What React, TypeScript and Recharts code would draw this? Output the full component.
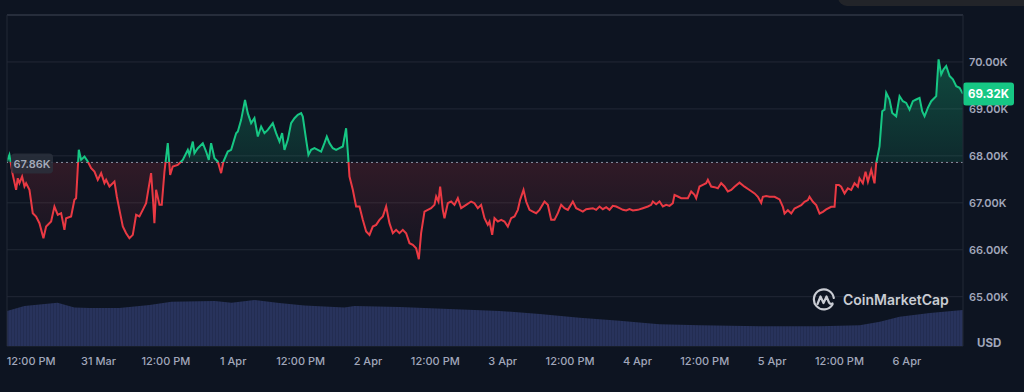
import React from 'react';
import { ComposedChart, Area, XAxis, YAxis, CartesianGrid, ReferenceLine } from 'recharts';

// hours since 30 Mar 00:00
const priceHours = [
  7.7, 8.13, 8.73, 9.32, 9.62, 9.92, 10.39, 10.81, 11.1, 11.7, 12.29, 12.88, 13.48, 14.19, 14.67, 15.56, 16.15, 16.75, 17.34, 17.93,
  18.23, 19.12, 19.71, 20.01, 20.49, 20.9, 21.5, 22.09, 22.69, 23.28, 23.87, 24.47, 25.06, 25.36, 25.95, 26.84, 27.26, 27.73, 28.33, 28.92,
  29.51, 30.11, 30.7, 31.29, 31.89, 32.48, 33.37, 33.67, 33.96, 34.26, 34.86, 35.27, 35.75, 36.34, 36.76, 37.23, 38.12, 38.72, 39.01, 39.61,
  39.91, 40.2, 40.8, 41.09, 41.69, 42.58, 43.17, 43.65, 44.06, 44.66, 45.25, 45.84, 46.26, 47.03, 47.63, 48.52, 48.82, 49.41, 50.1, 50.59,
  51.19, 51.78, 52.38, 52.97, 53.56, 54.16, 55.05, 55.64, 56.24, 56.71, 57.13, 57.72, 58.31, 58.91, 59.5, 60.1, 60.39, 60.99, 61.4, 61.88,
  62.47, 63.07, 63.66, 64.25, 64.67, 65.14, 65.74, 66.33, 66.93, 67.52, 68.11, 68.47, 68.71, 69.3, 69.89, 70.49, 71.08, 71.68, 72.27, 72.86,
  73.46, 74.05, 74.65, 75.24, 75.83, 76.43, 77.02, 77.61, 78.21, 78.8, 79.4, 79.99, 80.58, 81.06, 81.47, 82.07, 82.66, 83.25, 83.85, 84.15,
  84.56, 84.86, 85.33, 85.63, 86.22, 86.82, 87.41, 88.01, 88.6, 89.49, 90.38, 90.97, 91.57, 92.16, 92.76, 93.35, 93.65, 94.13, 94.54, 95.14,
  95.73, 96.32, 96.92, 97.51, 98.11, 98.7, 99.11, 99.71, 100.18, 100.78, 101.37, 101.97, 102.56, 103.45, 104.04, 104.64, 105.23, 105.83, 106.42, 107.01,
  107.61, 108.5, 109.09, 109.69, 110.28, 110.87, 112.06, 112.65, 113.25, 113.84, 114.44, 115.03, 115.62, 116.22, 116.81, 117.41, 118.0, 118.59, 119.19, 120.08,
  120.97, 121.86, 122.45, 122.75, 123.34, 123.94, 124.53, 125.13, 125.72, 126.31, 126.61, 127.2, 127.8, 128.39, 128.99, 129.58, 130.17, 130.47, 131.06, 131.66,
  132.25, 132.55, 133.14, 133.74, 134.33, 134.92, 135.52, 136.11, 136.71, 137.3, 138.19, 139.08, 139.97, 140.87, 141.46, 142.05, 142.35, 142.94, 143.54, 144.43,
  145.32, 145.91, 146.21, 146.8, 147.4, 147.99, 148.59, 149.18, 149.77, 150.37, 150.66, 151.26, 151.85, 152.45, 153.04, 153.63, 154.52, 155.12, 155.41, 155.89,
  156.3, 156.9, 157.49, 158.09, 158.68, 159.27, 159.57, 160.16, 160.64, 161.06, 161.65, 162.24, 162.54, 163.13, 163.61, 164.02, 164.32, 164.91, 165.39, 166.1,
  166.7, 167.29, 167.88, 168.48, 169.07, 169.66, 170.26, 170.73, 171.15, 171.74, 172.34, 173.23, 173.65, 174.12, 174.54, 175.01, 175.61, 176.2, 176.8, 177.39,
  177.99,
];

const prices = [
  67879, 68021, 67595, 67276, 67524, 67418, 67560, 67347, 67418, 67276, 66779, 66708, 66566, 66246, 66495, 66601, 66921, 66743, 66779, 66424,
  66672, 66708, 67063, 67098, 68128, 67915, 67986, 67879, 67737, 67666, 67489, 67631, 67418, 67489, 67347, 67453, 67134, 66850, 66495, 66353,
  66246, 66317, 66743, 66708, 66850, 66992, 67631, 67134, 66566, 67276, 66956, 66956, 67666, 68270, 67595, 67773, 67808, 67879, 67915, 68057,
  68128, 68021, 68305, 68057, 68163, 68270, 68092, 67915, 68270, 67950, 67879, 67631, 67879, 68092, 68128, 68483, 68518, 68767, 69193, 68909,
  68696, 68802, 68412, 68625, 68483, 68554, 68696, 68483, 68305, 68483, 68128, 68341, 68696, 68802, 68873, 68909, 68838, 68341, 68021, 68128,
  68163, 68128, 68092, 68270, 68412, 68270, 68163, 68128, 68163, 68199, 68589, 67986, 67560, 67276, 66921, 66921, 66637, 66388, 66317, 66495,
  66530, 66637, 66708, 66921, 66566, 66353, 66424, 66353, 66424, 66353, 66140, 66104, 66033, 65799, 66353, 66814, 66850, 66885, 66956, 67134,
  67027, 67347, 66850, 66672, 66992, 67027, 66956, 67098, 66885, 66956, 67027, 66992, 66885, 66956, 66672, 66530, 66600, 66317, 66672, 66601,
  66637, 66601, 66495, 66672, 66708, 66850, 67063, 67276, 67027, 66850, 66814, 66779, 66850, 67027, 66956, 66637, 66637, 66779, 66956, 66885,
  66850, 67027, 66885, 66850, 66814, 66864, 66885, 66850, 66921, 66864, 66907, 66850, 66935, 66921, 66885, 66850, 66836, 66864, 66836, 66850,
  66885, 66921, 66956, 67027, 66970, 67027, 66921, 66956, 66935, 66992, 67169, 67134, 67098, 67098, 67098, 67240, 67169, 67098, 67347, 67382,
  67418, 67489, 67347, 67333, 67311, 67418, 67347, 67240, 67272, 67343, 67429, 67343, 67272, 67200, 67129, 67000, 67129, 67143, 67129, 67129,
  67072, 66915, 66772, 66843, 66772, 66879, 66915, 66950, 67022, 67057, 67129, 67022, 66950, 66772, 66808, 66858, 66915, 66915, 67379, 67379,
  67343, 67200, 67307, 67272, 67415, 67343, 67522, 67415, 67664, 67450, 67700, 67415, 67843, 68200, 68950, 68985, 69342, 69200, 68914, 68843,
  69271, 69164, 69128, 68985, 69164, 69200, 69235, 68950, 68843, 69021, 69164, 69271, 70056, 69735, 69842, 69914, 69700, 69628, 69485, 69450,
  69320,
];

const volumeHours = [
  7.7, 10.8, 16.7, 19.7, 22.4, 27.7, 33.1, 37.0, 44.7, 47.7, 51.8, 56.2, 60.7, 67.8, 69.6,
  77.6, 86.5, 95.4, 102.6, 109.7, 116.8, 123.9, 131.1, 141.8, 152.5, 159.6, 163.2, 166.7, 172.1, 177.99,
];
const volumes = [
  10.6, 12.1, 13.1, 11.6, 11.5, 11.5, 12.4, 13.4, 13.6, 13.1, 13.9, 13.0, 12.2, 11.6, 12.1,
  11.8, 11.2, 10.6, 9.7, 8.5, 7.6, 6.6, 6.3, 6.0, 6.0, 6.3, 7.3, 8.8, 10.0, 10.9,
];

const xTicks = [12, 24, 36, 48, 60, 72, 84, 96, 108, 120, 132, 144, 156, 168];
const xTickLabels = [
  '12:00 PM', '31 Mar', '12:00 PM', '1 Apr', '12:00 PM', '2 Apr', '12:00 PM',
  '3 Apr', '12:00 PM', '4 Apr', '12:00 PM', '5 Apr', '12:00 PM', '6 Apr',
];
const yTicks = [65000, 66000, 67000, 68000, 69000, 70000];
const BASELINE = 67860;
const LAST = prices[prices.length - 1];

const X_DOMAIN: [number, number] = [7.7, 178];
const Y_DOMAIN: [number, number] = [63950, 71000];

const rowMap = new Map<number, any>();
priceHours.forEach((h, i) => {
  rowMap.set(h, { ...(rowMap.get(h) || { t: h }), price: prices[i] });
});
volumeHours.forEach((h, i) => {
  rowMap.set(h, { ...(rowMap.get(h) || { t: h }), vol: volumes[i] });
});
const data = Array.from(rowMap.values()).sort((a, b) => a.t - b.t);

const maxP = Math.max(...prices);
const minP = Math.min(...prices);
const splitOffset = (maxP - BASELINE) / (maxP - minP);

const GREEN = '#16c784';
const RED = '#ea3943';
const FONT = 'Inter, "Noto Sans", sans-serif';
const TICK_COLOR = '#a1a7bb';
const GRID = '#222836';

const BaselineLabel = (props: any) => {
  const vb = props.viewBox;
  if (!vb) return null;
  const x = vb.x + 4;
  const y = vb.y;
  return (
    <g>
      <rect x={x} y={y - 9} width={42} height={20} rx={4} fill="#2a303c" fillOpacity={0.85} />
      <text x={x + 21} y={y + 1.5} textAnchor="middle" dominantBaseline="central" fontSize={11} fontWeight={600} fill="#a3a9b8" fontFamily={FONT}>
        {(BASELINE / 1000).toFixed(2)}K
      </text>
    </g>
  );
};

const LastBadge = (props: any) => {
  const vb = props.viewBox;
  if (!vb) return null;
  const x = vb.x + vb.width;
  const y = vb.y;
  return (
    <g>
      <rect x={x} y={y - 11.5} width={51} height={23} rx={3} fill={GREEN} />
      <text x={x + 25.5} y={y} textAnchor="middle" dominantBaseline="central" fontSize={11.5} fontWeight={700} fill="#ffffff" fontFamily={FONT}>
        {(LAST / 1000).toFixed(2)}K
      </text>
    </g>
  );
};

export default function App() {
  return (
    <div style={{ position: 'fixed', left: 0, top: 0, width: 1024, height: 392, background: '#0d1421', overflow: 'hidden', fontFamily: FONT }}>
      <div style={{ position: 'absolute', left: 838, top: -12, width: 220, height: 18, borderRadius: 10, background: '#222429' }} />
      <ComposedChart width={1024} height={392} data={data} margin={{ top: 15, right: 0, bottom: 0, left: 7 }}>
        <defs>
          <linearGradient id="priceStroke" x1="0" y1="0" x2="0" y2="1">
            <stop offset={0} stopColor={GREEN} />
            <stop offset={splitOffset} stopColor={GREEN} />
            <stop offset={splitOffset} stopColor={RED} />
            <stop offset={1} stopColor={RED} />
          </linearGradient>
          <linearGradient id="priceFill" x1="0" y1="0" x2="0" y2="1">
            <stop offset={0} stopColor={GREEN} stopOpacity={0.3} />
            <stop offset={splitOffset} stopColor={GREEN} stopOpacity={0.12} />
            <stop offset={splitOffset} stopColor={RED} stopOpacity={0.16} />
            <stop offset={1} stopColor={RED} stopOpacity={0.02} />
          </linearGradient>
          <pattern id="volPattern" width="3" height="4" patternUnits="userSpaceOnUse">
            <rect width="3" height="4" fill="#28335c" />
            <rect x="2" width="1" height="4" fill="#232d52" />
          </pattern>
        </defs>
        <CartesianGrid vertical={false} stroke={GRID} strokeWidth={1} />
        <XAxis
          dataKey="t"
          type="number"
          domain={X_DOMAIN}
          ticks={xTicks}
          interval={0}
          tickFormatter={(v: number) => xTickLabels[xTicks.indexOf(v)]}
          tickLine={false}
          axisLine={false}
          tickMargin={5}
          height={46}
          tick={{ fill: TICK_COLOR, fontSize: 11, fontWeight: 500, fontFamily: FONT }}
          allowDataOverflow
        />
        <YAxis
          orientation="right"
          domain={Y_DOMAIN}
          ticks={yTicks}
          width={61}
          tickLine={false}
          axisLine={{ stroke: GRID }}
          tickMargin={0}
          tickFormatter={(v: number) => (v / 1000).toFixed(2) + 'K'}
          tick={{ fill: TICK_COLOR, fontSize: 11, fontWeight: 600, fontFamily: FONT }}
          allowDataOverflow
        />
        <YAxis yAxisId="vol" hide domain={[0, 100]} />
        <Area
          yAxisId="vol"
          dataKey="vol"
          type="linear"
          stroke="none"
          fill="url(#volPattern)"
          fillOpacity={1}
          connectNulls
          isAnimationActive={false}
          dot={false}
          activeDot={false}
        />
        <Area
          dataKey="price"
          type="linear"
          stroke="url(#priceStroke)"
          strokeWidth={2}
          fill="url(#priceFill)"
          fillOpacity={1}
          baseValue={BASELINE}
          connectNulls
          isAnimationActive={false}
          dot={false}
          activeDot={false}
        />
        <ReferenceLine y={Y_DOMAIN[1]} stroke="#262d3b" strokeWidth={2} />
        <ReferenceLine x={X_DOMAIN[0]} stroke={GRID} strokeWidth={1} />
        <ReferenceLine y={BASELINE} stroke="#8a91a3" strokeDasharray="2 3" strokeWidth={1} label={<BaselineLabel />} />
        <ReferenceLine y={LAST} stroke="none" label={<LastBadge />} />
      </ComposedChart>
      <div style={{ position: 'absolute', left: 977, top: 336, fontSize: 11.5, fontWeight: 700, color: TICK_COLOR, lineHeight: '14px' }}>USD</div>
      <div style={{ position: 'absolute', left: 812, top: 288, display: 'flex', alignItems: 'center', gap: 7 }}>
        <svg width={24} height={24} viewBox="0 0 24 24">
          <path d="M 20.5 16.5 A 10 10 0 1 1 21.8 10" fill="none" stroke="#c9ccd3" strokeWidth={2.2} strokeLinecap="round" />
          <path d="M 5.5 16 L 8.5 8.5 L 11.5 15 L 14.5 8.5 L 17 14.5 Q 18 16.5 20.5 15.5" fill="none" stroke="#c9ccd3" strokeWidth={2.2} strokeLinejoin="round" strokeLinecap="round" />
        </svg>
        <span style={{ fontSize: 14, fontWeight: 600, color: '#c9ccd3', lineHeight: '20px' }}>CoinMarketCap</span>
      </div>
    </div>
  );
}
